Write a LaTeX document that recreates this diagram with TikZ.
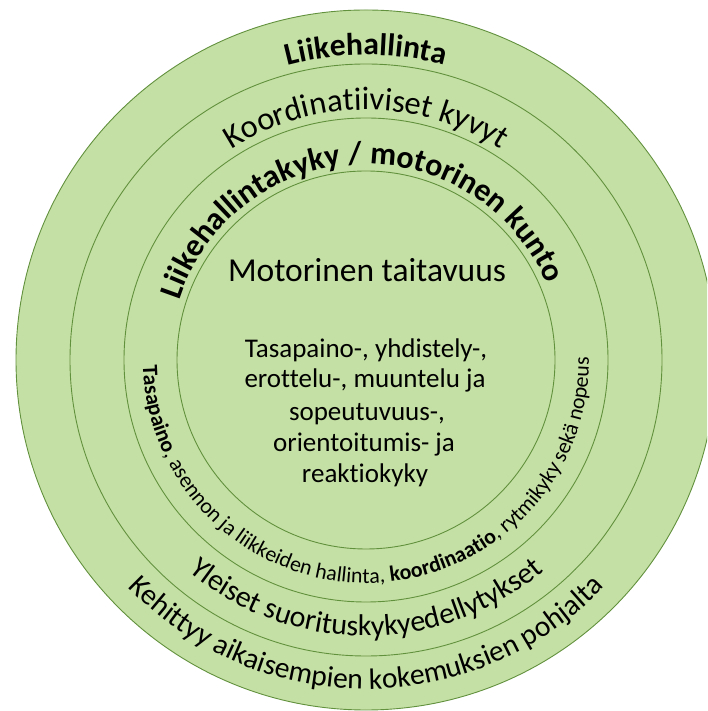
\documentclass[tikz,border=0pt]{standalone}
\usepackage{fontspec}
\setmainfont[Ligatures={NoCommon,NoContextual}]{Carlito}
\usetikzlibrary{decorations.text,calc}
\definecolor{ringfill}{RGB}{197,224,164}
\definecolor{ringline}{RGB}{98,145,62}
\newcommand\fRing{\fontsize{31.5}{37}\selectfont}
\newcommand\fRingK{\fontsize{32.5}{38}\selectfont}
\newcommand\fRingL{\fontsize{32}{38}\selectfont}
\newcommand\fRingB{\fontsize{30}{36}\selectfont}
\newcommand\fRingC{\fontsize{29.5}{35}\selectfont}
\newcommand\fMot{\fontsize{33.5}{40}\selectfont}
\newcommand\fBlock{\fontsize{27}{32}\selectfont}
\newcommand\fSmall{\fontsize{21.8}{26}\selectfont}
\begin{document}
\begin{tikzpicture}[x=1pt,y=1pt,
  ring/.style={draw=ringline, line width=0.9pt, fill=ringfill},
  arctext/.style={decorate, decoration={text along path, text align=center, text={#1}}},
  blockline/.style={anchor=base, font=\fBlock, inner sep=0pt}]
\useasboundingbox (0,0) rectangle (707,711);
\clip (0,0) rectangle (707,711);
\coordinate (C) at (366,351);
\draw[ring] (C) circle[radius=350];
\draw[ring] (C) circle[radius=296];
\draw[ring] (C) circle[radius=242];
\draw[ring] (C) circle[radius=189];
% top texts
\path[arctext={|\fRing\bfseries|Liikehallinta}]
  ($(C)+(180:305)$) arc[start angle=180, end angle=0, radius=305];
\path[arctext={|\fRingK|Koordinatiiviset kyvyt}]
  ($(C)+(180:250)$) arc[start angle=180, end angle=0, radius=250];
\path[arctext={|\fRingL\bfseries|Liikehallintakyky / motorinen kunto}]
  ($(C)+(182.5:196)$) arc[start angle=182.5, end angle=2.5, radius=196];
% bottom texts
\path[arctext={|\fSmall\bfseries|Tasapaino|\fSmall\mdseries|, asennon ja liikkeiden hallinta, |\fSmall\bfseries|koordinaatio|\fSmall\mdseries|, rytmikyky sekä nopeus}]
  ($(C)+(166:223)$) arc[start angle=166, end angle=376, radius=223];
\path[arctext={|\fRingB|Yleiset suorituskykyedellytykset}]
  ($(C)+(180:276)$) arc[start angle=180, end angle=360, radius=276];
\path[arctext={|\fRingC|Kehittyy aikaisempien kokemuksien pohjalta}]
  ($(C)+(180:329)$) arc[start angle=180, end angle=360, radius=329];
% centre
\node[anchor=base, font=\fMot, inner sep=0pt] (mt) at (367,429) {Motorinen taitavuus};
\node[blockline] (l1) at (366,353) {Tasapaino-, yhdistely-,};
\node[blockline] (l2) at (365,323) {erottelu-, muuntelu ja};
\node[blockline] (l3) at (367,290) {sopeutuvuus-,};
\node[blockline] (l4) at (364,259) {orientoitumis- ja};
\node[blockline] (l5) at (365,228) {reaktiokyky};
\end{tikzpicture}
\end{document}
